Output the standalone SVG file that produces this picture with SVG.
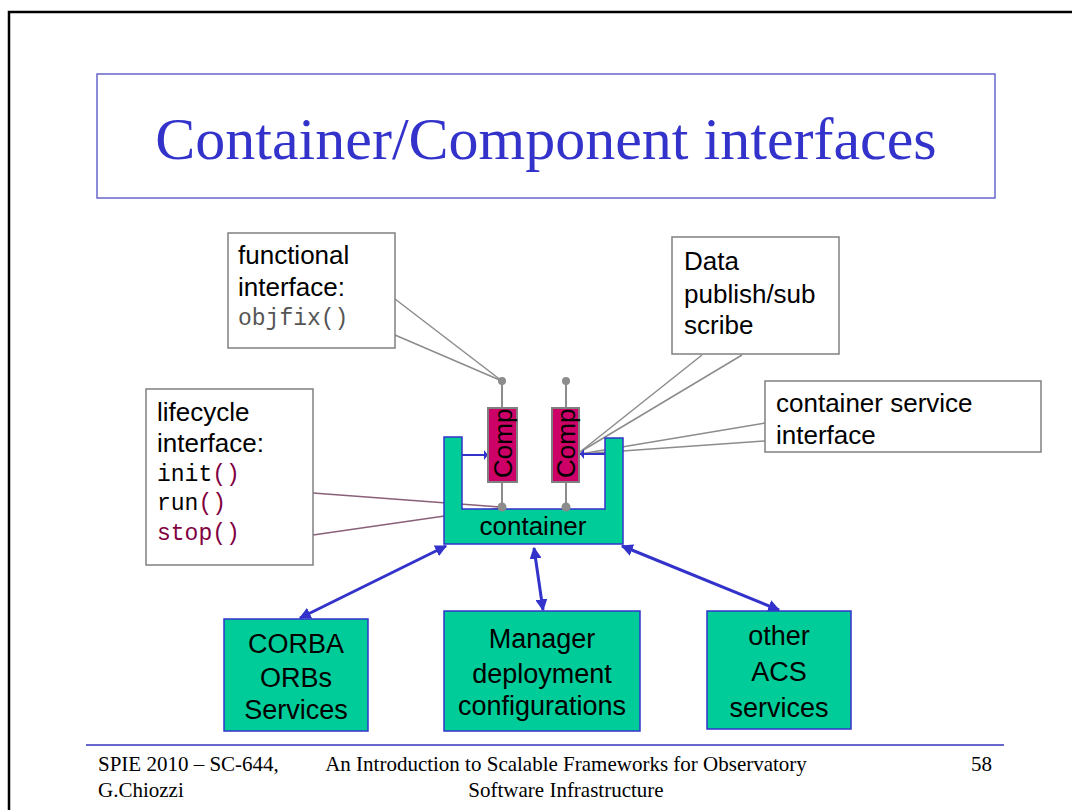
<svg xmlns="http://www.w3.org/2000/svg" width="1072" height="810" viewBox="0 0 1072 810">
<defs>
<style>
.sans{font-family:"Liberation Sans",Arial,sans-serif;font-size:26px;fill:#000}
.mono{font-family:"Liberation Mono","Courier New",monospace;font-size:23px}
.serif{font-family:"Liberation Serif","Times New Roman",serif;fill:#000}
.box{fill:#fff;stroke:#808080;stroke-width:1.5}
.call{stroke:#8c8c8c;stroke-width:1.5;fill:none}
.callm{stroke:#8a5f78;stroke-width:1.5;fill:none}
.svc{fill:#00cc99;stroke:#3333cc;stroke-width:1.5}
.comp{fill:#cc0066;stroke:#808080;stroke-width:2}
.stem{stroke:#8c8c8c;stroke-width:2}
.dot{fill:#8c8c8c}
.blue{stroke:#3333cc;stroke-width:3;fill:none;marker-start:url(#ah);marker-end:url(#ah)}
.tab{stroke:#3333cc;stroke-width:2;fill:none}
.big{font-size:27px}
.mar{fill:#800040}
.foot{font-size:21px}
</style>
<marker id="ah" viewBox="0 0 10 10" refX="9" refY="5" markerWidth="4" markerHeight="4" orient="auto-start-reverse" markerUnits="strokeWidth">
<path d="M0,0 L10,5 L0,10 Z" fill="#3333cc"/>
</marker>
</defs>
<rect width="1072" height="810" fill="#fff"/>
<path d="M9,810 V12 H1072" fill="none" stroke="#000" stroke-width="2.5"/>

<g id="title">
<rect x="97" y="74" width="898" height="124" fill="#fff" stroke="#6666cc" stroke-width="1.5"/>
<text x="546" y="159" text-anchor="middle" class="serif" font-size="60" style="fill:#3333cc">Container/Component interfaces</text>
</g>

<g id="connectors">
<line class="call" x1="395" y1="299" x2="502" y2="381"/>
<line class="call" x1="395" y1="335" x2="502" y2="381"/>
<line class="call" x1="702" y1="355" x2="580" y2="452"/>
<line class="call" x1="742" y1="355" x2="580" y2="452"/>
<line class="call" x1="765" y1="423" x2="580" y2="454"/>
<line class="call" x1="765" y1="441" x2="580" y2="454"/>
<line class="callm" x1="313" y1="493" x2="500" y2="507"/>
<line class="callm" x1="313" y1="535" x2="500" y2="508"/>
<line class="blue" x1="446" y1="546" x2="300" y2="618"/>
<line class="blue" x1="534" y1="548" x2="543" y2="610"/>
<line class="blue" x1="622" y1="546" x2="779" y2="610"/>
</g>

<g id="container">
<path class="svc" d="M444,437 H462 V509 H605 V438 H623 V544 H444 Z"/>
<text x="533" y="535" text-anchor="middle" class="sans">container</text>
<line class="tab" x1="462" y1="455" x2="488" y2="455"/>
<path d="M484,450 L488,455 L484,460 Z" fill="#3333cc"/>
<line class="tab" x1="579" y1="454" x2="605" y2="454"/>
<path d="M584,449 L580,454 L584,459 Z" fill="#3333cc"/>
</g>

<g id="comp-left">
<line class="stem" x1="502" y1="381" x2="502" y2="408"/>
<line class="stem" x1="502" y1="482" x2="502" y2="507"/>
<rect class="comp" x="488" y="408" width="29" height="74"/>
<text transform="translate(512,478) rotate(-90)" class="sans" font-size="24">Comp</text>
<circle class="dot" cx="502" cy="381" r="4"/>
<circle class="dot" cx="502" cy="507" r="4.5"/>
</g>

<g id="comp-right">
<line class="stem" x1="566" y1="381" x2="566" y2="408"/>
<line class="stem" x1="566" y1="482" x2="566" y2="507"/>
<rect class="comp" x="552" y="408" width="27" height="74"/>
<text transform="translate(575,478) rotate(-90)" class="sans" font-size="24">Comp</text>
<circle class="dot" cx="566" cy="381" r="4"/>
<circle class="dot" cx="566" cy="507" r="4.5"/>
</g>

<g id="functional">
<rect class="box" x="228" y="233" width="167" height="115"/>
<text x="238" y="264" class="sans">functional</text>
<text x="238" y="296" class="sans">interface:</text>
<text x="238" y="325" class="mono" fill="#555">objfix()</text>
</g>

<g id="data">
<rect class="box" x="672" y="237" width="167" height="117"/>
<text x="684" y="270" class="sans">Data</text>
<text x="684" y="303" class="sans">publish/sub</text>
<text x="684" y="334" class="sans">scribe</text>
</g>

<g id="service">
<rect class="box" x="765" y="381" width="276" height="71"/>
<text x="776" y="412" class="sans">container service</text>
<text x="776" y="444" class="sans">interface</text>
</g>

<g id="lifecycle">
<rect class="box" x="146" y="389" width="167" height="176"/>
<text x="157" y="421" class="sans">lifecycle</text>
<text x="157" y="452" class="sans">interface:</text>
<text x="157" y="481" class="mono">init<tspan class="mar">()</tspan></text>
<text x="157" y="510" class="mono">run<tspan class="mar">()</tspan></text>
<text x="157" y="540" class="mono mar">stop()</text>
</g>

<g id="corba">
<rect class="svc" x="224" y="619" width="144" height="112"/>
<text x="296" y="653" text-anchor="middle" class="sans big">CORBA</text>
<text x="296" y="687" text-anchor="middle" class="sans big">ORBs</text>
<text x="296" y="719" text-anchor="middle" class="sans big">Services</text>
</g>

<g id="manager">
<rect class="svc" x="444" y="611" width="196" height="120"/>
<text x="542" y="648" text-anchor="middle" class="sans big">Manager</text>
<text x="542" y="683" text-anchor="middle" class="sans big">deployment</text>
<text x="542" y="715" text-anchor="middle" class="sans big">configurations</text>
</g>

<g id="other">
<rect class="svc" x="707" y="611" width="144" height="118"/>
<text x="779" y="645" text-anchor="middle" class="sans big">other</text>
<text x="779" y="681" text-anchor="middle" class="sans big">ACS</text>
<text x="779" y="717" text-anchor="middle" class="sans big">services</text>
</g>

<g id="footer">
<line x1="86" y1="745" x2="1004" y2="745" stroke="#6666cc" stroke-width="2"/>
<text x="98" y="771" class="serif foot">SPIE 2010 – SC-644,</text>
<text x="98" y="797" class="serif foot">G.Chiozzi</text>
<text x="566" y="771" text-anchor="middle" class="serif foot">An Introduction to Scalable Frameworks for Observatory</text>
<text x="566" y="797" text-anchor="middle" class="serif foot">Software Infrastructure</text>
<text x="992" y="771" text-anchor="end" class="serif foot">58</text>
</g>
</svg>
